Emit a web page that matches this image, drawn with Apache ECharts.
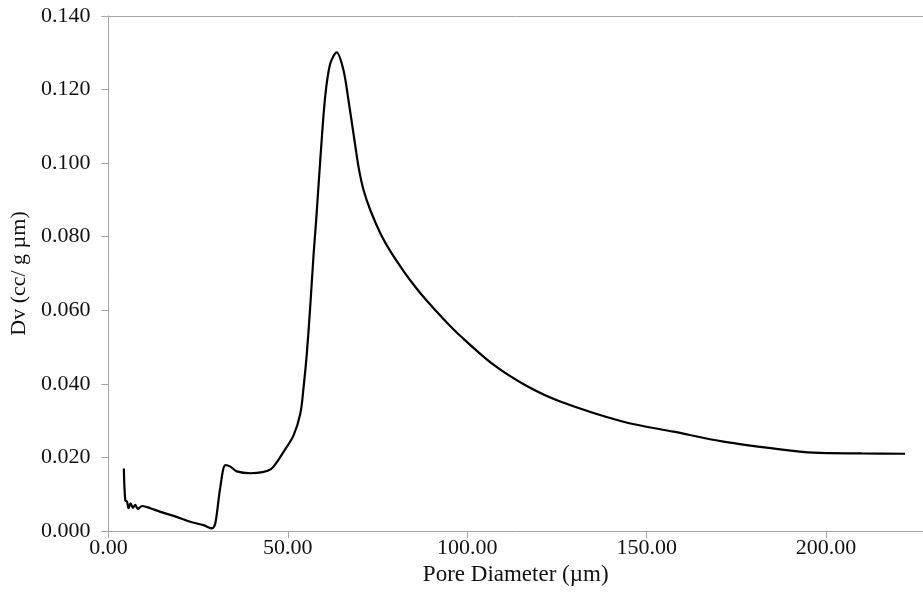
<!DOCTYPE html>
<html>
<head>
<meta charset="utf-8">
<script src="https://cdn.jsdelivr.net/npm/echarts@6/dist/echarts.min.js"></script>
<style>
html,body{margin:0;padding:0;background:#fff;}
#chart{width:923px;height:601px;}
</style>
</head>
<body>
<div id="chart"></div>
<script>
// Pore diameter (µm)
const poreDiameter = [4.3, 4.7, 5.2, 5.6, 6.2, 6.8, 7.5, 8.2, 9.4, 11.7, 14.5, 18.2, 22.8, 26.5, 28.9, 29.8, 31.2, 32.6, 34.0, 35.8, 39.6, 43.0, 45.3, 47.0, 48.8, 51.6, 53.5, 54.4, 55.3, 56.3, 57.2, 57.9, 59.1, 60.4, 61.8, 63.6, 65.5, 66.9, 68.3, 69.7, 71.1, 73.0, 75.8, 78.6, 82.3, 85.5, 88.8, 93.5, 98.1, 107.3, 116.6, 125.9, 143.5, 157.5, 171.4, 187.2, 196.5, 210.0, 222.0];
// Dv (cc/ g µm)
const dvValues = [0.0170, 0.0084, 0.0080, 0.0062, 0.0075, 0.0063, 0.0071, 0.0060, 0.0068, 0.0062, 0.0052, 0.0041, 0.0025, 0.0016, 0.0007, 0.0021, 0.0120, 0.0179, 0.0175, 0.0162, 0.0157, 0.0160, 0.0168, 0.0188, 0.0215, 0.0260, 0.0320, 0.0392, 0.0483, 0.0619, 0.0755, 0.0845, 0.1017, 0.1180, 0.1270, 0.1301, 0.1253, 0.1171, 0.1080, 0.0990, 0.0927, 0.0872, 0.0809, 0.0760, 0.0706, 0.0664, 0.0625, 0.0575, 0.0530, 0.0452, 0.0394, 0.0352, 0.0297, 0.0270, 0.0243, 0.0222, 0.0213, 0.0211, 0.0210];
const xTitle = 'Pore Diameter (\u00b5m)';
const yTitle = 'Dv (cc/ g \u00b5m)';

const data = poreDiameter.map((d, i) => [d, dvValues[i]]);
const font = 'Liberation Serif';
const axisColor = '#a6a6a6';

const chart = echarts.init(document.getElementById('chart'), null, {renderer: 'canvas'});
chart.setOption({
  animation: false,
  backgroundColor: '#ffffff',
  grid: {left: 108, top: 16, right: 0, bottom: 70, containLabel: false},
  xAxis: [{
    type: 'value', min: 0, max: 227, interval: 50, position: 'bottom',
    name: xTitle, nameLocation: 'middle', nameGap: 30,
    nameTextStyle: {fontFamily: font, fontSize: 23, color: '#111'},
    axisLine: {show: true, lineStyle: {color: axisColor, width: 1}},
    axisTick: {show: true, inside: false, length: 7, lineStyle: {color: axisColor}},
    axisLabel: {fontFamily: font, fontSize: 22, color: '#111', margin: 6, showMaxLabel: false,
      formatter: v => v.toFixed(2)},
    splitLine: {show: false}
  }, {
    type: 'value', min: 0, max: 227, position: 'top',
    axisLine: {show: true, lineStyle: {color: axisColor, width: 1}},
    axisTick: {show: false}, axisLabel: {show: false}, splitLine: {show: false}
  }],
  yAxis: {
    type: 'value', min: 0, max: 0.14, interval: 0.02,
    name: yTitle, nameLocation: 'middle', nameGap: 78, nameRotate: 90,
    nameTextStyle: {fontFamily: font, fontSize: 22, color: '#111'},
    axisLine: {show: true, lineStyle: {color: axisColor, width: 1}},
    axisTick: {show: true, inside: false, length: 7, lineStyle: {color: axisColor}},
    axisLabel: {fontFamily: font, fontSize: 22, color: '#111', margin: 18,
      formatter: v => v.toFixed(3)},
    splitLine: {show: false}
  },
  series: [{
    type: 'line', xAxisIndex: 0, data: data, smooth: 0.3, showSymbol: false,
    lineStyle: {color: '#000', width: 2.2}
  }]
});
</script>
</body>
</html>
